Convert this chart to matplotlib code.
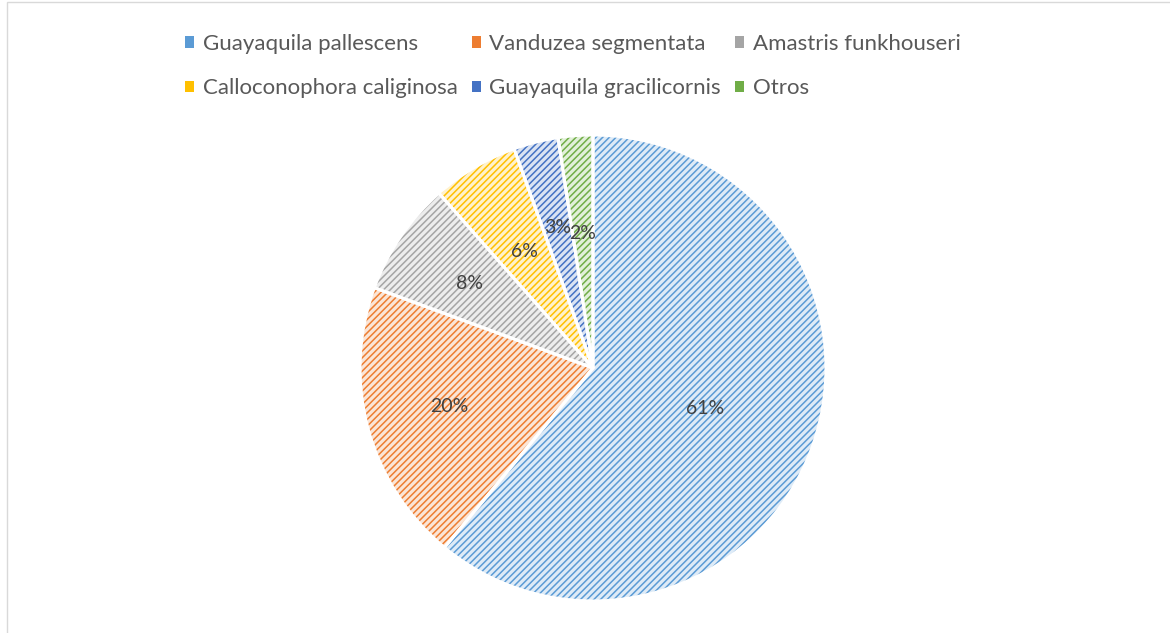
import matplotlib.pyplot as plt
from matplotlib.patches import Patch, Rectangle
import numpy as np

plt.rcParams['font.family'] = ['Lato', 'DejaVu Sans']
plt.rcParams['hatch.linewidth'] = 1.1

especies = ['Guayaquila pallescens', 'Vanduzea segmentata', 'Amastris funkhouseri',
            'Calloconophora caliginosa', 'Guayaquila gracilicornis', 'Otros']
porcentajes = [61.0, 19.6, 7.9, 6.0, 3.1, 2.4]

colores = ['#5B9BD5', '#ED7D31', '#A5A5A5', '#FFC000', '#4472C4', '#70AD47']
fondos = ['#DEEBF7', '#FBE5D6', '#EDEDED', '#FFF2CC', '#DAE3F3', '#E2F0D9']
dist_etiqueta = [0.51, 0.64, 0.64, 0.58, 0.62, 0.58]

fig = plt.figure(figsize=(11.7, 6.33), dpi=100)

# borde gris del area del grafico
fig.add_artist(Rectangle((6.5/1170, -0.1), 1.2, 1.1 - 2.5/633, transform=fig.transFigure,
                         fill=False, edgecolor='#D9D9D9', lw=1.0))

ax = fig.add_axes([360/1170, 32/633, 466/1170, 466/633])

wedges, _ = ax.pie(porcentajes, startangle=90, counterclock=False, colors=fondos,
                   wedgeprops=dict(lw=0))
for w, c in zip(wedges, colores):
    w.set_edgecolor(c)
    w.set_hatch('/////')

# bordes blancos entre sectores
ax.pie(porcentajes, startangle=90, counterclock=False,
       wedgeprops=dict(fill=False, edgecolor='white', lw=2.2))

for w, p, d in zip(wedges, porcentajes, dist_etiqueta):
    ang = np.deg2rad((w.theta1 + w.theta2) / 2)
    ax.text(d * np.cos(ang), d * np.sin(ang), '%.0f%%' % p, ha='center', va='center',
            fontsize=14, color='#404040')

ax.set_xlim(-1, 1)
ax.set_ylim(-1, 1)
ax.set_aspect('equal')

# la leyenda de matplotlib llena por columnas: reordenar para que quede por filas
orden = [0, 3, 1, 4, 2, 5]
handles = [Patch(facecolor=colores[i], lw=0) for i in orden]
etiquetas = [especies[i] for i in orden]
fig.legend(handles, etiquetas, ncol=3, loc='upper left', bbox_to_anchor=(165/1170, 1 - 14/633),
           frameon=False, fontsize=16, labelcolor='#595959', handlelength=0.4, handleheight=0.4,
           handletextpad=0.4, columnspacing=0.63, labelspacing=1.1)

fig.savefig('out.png', dpi=100)
